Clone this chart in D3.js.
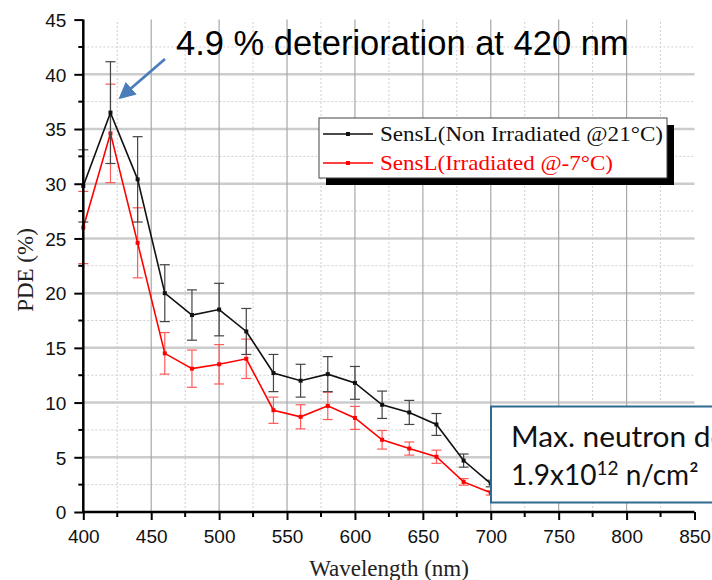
<html lang="en">
<head>
<meta charset="UTF-8">
<title>PDE vs wavelength</title>
<script src="https://cdn.jsdelivr.net/npm/d3@7"></script>
<style>
  body { margin: 0; background: #fff; }
  svg { display: block; }
  .tick-label { font-family: "Liberation Sans", Arial, sans-serif; font-size: 19px; fill: #111; }
  .serif { font-family: "Liberation Serif", "Times New Roman", serif; }
</style>
</head>
<body>
<svg id="chart"></svg>
<script>
// wavelengths (nm)
var wavelengths = [400, 420, 440, 460, 480, 500, 520, 540, 560, 580, 600, 620, 640, 660, 680, 700];
// SensL non irradiated @21C
var pdeNonIrr = [29.8, 36.5, 30.4, 20.0, 18.0, 18.5, 16.5, 12.7, 12.0, 12.6, 11.8, 9.8, 9.1, 8.0, 4.7, 2.6];
var errNonIrr = [3.3, 4.65, 3.9, 2.6, 2.3, 2.4, 2.1, 1.7, 1.5, 1.6, 1.5, 1.25, 1.1, 1.0, 0.6, 0.3];
// SensL irradiated @-7C
var pdeIrr = [26.0, 34.6, 24.6, 14.5, 13.1, 13.5, 14.0, 9.3, 8.7, 9.7, 8.6, 6.6, 5.8, 5.05, 2.75, 1.75];
var errIrr = [3.3, 4.5, 3.2, 1.9, 1.7, 1.8, 1.8, 1.2, 1.1, 1.25, 1.05, 0.85, 0.6, 0.6, 0.3, 0.2];

var xTicks = [400, 450, 500, 550, 600, 650, 700, 750, 800, 850];
var yTicks = [0, 5, 10, 15, 20, 25, 30, 35, 40, 45];
var seriesNames = ["SensL(Non Irradiated @21\u00B0C)", "SensL(Irradiated @-7\u00B0C)"];

var width = 712, height = 580;
var svg = d3.select("#chart").attr("width", width).attr("height", height);

var x = d3.scaleLinear().domain([400, 850]).range([83.3, 694.5]);
var y = d3.scaleLinear().domain([0, 45]).range([512, 19.6]);

var series = [
  {name: seriesNames[0], color: "#111", errColor: "#444", values: pdeNonIrr, errs: errNonIrr, legendLen: 283},
  {name: seriesNames[1], color: "#ff0000", errColor: "#ff5a5a", values: pdeIrr, errs: errIrr, legendLen: 233}
];

// grid
var grid = svg.append("g");
var minorY = d3.range(2.5, 45, 5);
var minorX = d3.range(425, 850, 50);
grid.selectAll(".gmy").data(minorY).enter().append("line")
  .attr("x1", x(400)).attr("x2", x(850))
  .attr("y1", function(d){ return y(d); }).attr("y2", function(d){ return y(d); })
  .attr("stroke", "#cfcfcf").attr("stroke-width", 1).attr("stroke-dasharray", "2,2");
grid.selectAll(".gmx").data(minorX).enter().append("line")
  .attr("y1", y(0)).attr("y2", y(45))
  .attr("x1", function(d){ return x(d); }).attr("x2", function(d){ return x(d); })
  .attr("stroke", "#cfcfcf").attr("stroke-width", 1).attr("stroke-dasharray", "2,2");
grid.selectAll(".gy").data(yTicks.filter(function(d){ return d > 0 && d < 45; })).enter().append("line")
  .attr("x1", x(400)).attr("x2", x(850))
  .attr("y1", function(d){ return y(d); }).attr("y2", function(d){ return y(d); })
  .attr("stroke", "#cccccc").attr("stroke-width", 2.5);
grid.selectAll(".gx").data(xTicks.filter(function(d){ return d > 400 && d < 850; })).enter().append("line")
  .attr("y1", y(0)).attr("y2", y(45))
  .attr("x1", function(d){ return x(d); }).attr("x2", function(d){ return x(d); })
  .attr("stroke", "#a8a8a8").attr("stroke-width", 1.2);

// series
var line = d3.line()
  .x(function(d){ return x(d[0]); })
  .y(function(d){ return y(d[1]); });

series.slice().reverse().forEach(function(s){
  var pts = wavelengths.map(function(w, i){ return [w, s.values[i], s.errs[i]]; });
  var g = svg.append("g");
  // error bars
  var eb = g.selectAll(".eb").data(pts).enter().append("g");
  eb.append("line")
    .attr("x1", function(d){ return x(d[0]); }).attr("x2", function(d){ return x(d[0]); })
    .attr("y1", function(d){ return y(d[1] - d[2]); }).attr("y2", function(d){ return y(d[1] + d[2]); })
    .attr("stroke", s.errColor).attr("stroke-width", 1.2);
  [-1, 1].forEach(function(sign){
    eb.append("line")
      .attr("x1", function(d){ return x(d[0]) - 5; }).attr("x2", function(d){ return x(d[0]) + 5; })
      .attr("y1", function(d){ return y(d[1] + sign * d[2]); }).attr("y2", function(d){ return y(d[1] + sign * d[2]); })
      .attr("stroke", s.errColor).attr("stroke-width", 1.2);
  });
  g.append("path").datum(pts).attr("d", line)
    .attr("fill", "none").attr("stroke", s.color).attr("stroke-width", 1.6);
  g.selectAll(".pt").data(pts).enter().append("rect")
    .attr("x", function(d){ return x(d[0]) - 2; }).attr("y", function(d){ return y(d[1]) - 2; })
    .attr("width", 4).attr("height", 4).attr("fill", s.color);
});

// axes
var yAxis = d3.axisLeft(y).tickValues(yTicks).tickSize(9).tickPadding(8);
var xAxis = d3.axisBottom(x).tickValues(xTicks).tickSize(8).tickPadding(10);

var gy = svg.append("g").attr("transform", "translate(" + x(400) + ",0)").call(yAxis);
var gx = svg.append("g").attr("transform", "translate(0," + y(0) + ")").call(xAxis);
[gx, gy].forEach(function(g){
  g.select(".domain").attr("stroke", "#000").attr("stroke-width", 2.5);
  g.selectAll(".tick line").attr("stroke", "#000").attr("stroke-width", 2);
  g.selectAll(".tick text").attr("class", "tick-label").attr("font-size", null).attr("font-family", null);
});
gy.select(".domain").attr("d", "M0," + y(0) + "V" + y(45));
gx.select(".domain").attr("d", "M" + x(400) + ",0H" + x(850));
gy.selectAll(".tick text").attr("dy", "0.36em");
gx.selectAll(".tick text").attr("dy", "0.71em");

// minor ticks
svg.append("g").selectAll("line").data(minorY).enter().append("line")
  .attr("x1", x(400) - 5).attr("x2", x(400))
  .attr("y1", function(d){ return y(d); }).attr("y2", function(d){ return y(d); })
  .attr("stroke", "#000").attr("stroke-width", 2);
svg.append("g").selectAll("line").data(minorX).enter().append("line")
  .attr("y1", y(0)).attr("y2", y(0) + 5)
  .attr("x1", function(d){ return x(d); }).attr("x2", function(d){ return x(d); })
  .attr("stroke", "#000").attr("stroke-width", 2);

// axis titles
svg.append("text").attr("class", "serif")
  .attr("transform", "translate(33,270) rotate(-90)")
  .attr("text-anchor", "middle").attr("font-size", 23).attr("fill", "#222")
  .text("PDE (%)");
svg.append("text").attr("class", "serif")
  .attr("x", 389).attr("y", 576)
  .attr("text-anchor", "middle").attr("font-size", 23).attr("fill", "#222")
  .text("Wavelength (nm)");

// legend
var legend = svg.append("g").attr("transform", "translate(319,118)");
legend.append("rect").attr("x", 7).attr("y", 7).attr("width", 348).attr("height", 60).attr("fill", "#000");
legend.append("rect").attr("x", 0).attr("y", 0).attr("width", 348).attr("height", 60)
  .attr("fill", "#fff").attr("stroke", "#444").attr("stroke-width", 1);
series.forEach(function(s, i){
  var ly = 16 + i * 29;
  legend.append("line").attr("x1", 4).attr("x2", 54).attr("y1", ly).attr("y2", ly)
    .attr("stroke", s.color).attr("stroke-width", 1.5);
  legend.append("rect").attr("x", 27).attr("y", ly - 2).attr("width", 4).attr("height", 4).attr("fill", s.color);
  legend.append("text").attr("class", "serif")
    .attr("x", 61).attr("y", ly + 7).attr("font-size", 22).attr("fill", s.color)
    .attr("textLength", s.legendLen).attr("lengthAdjust", "spacingAndGlyphs")
    .text(s.name);
});

// dose box
var box = svg.append("g");
box.append("rect").attr("x", 491).attr("y", 406.5).attr("width", 260).attr("height", 96)
  .attr("fill", "#fff").attr("stroke", "#2f6a8f").attr("stroke-width", 2);
box.append("text").attr("x", 511).attr("y", 446.5)
  .attr("font-family", "Lato, 'Open Sans', sans-serif").attr("font-size", 28).attr("fill", "#111")
  .attr("textLength", 245).attr("lengthAdjust", "spacingAndGlyphs")
  .text("Max. neutron dose");
var t2 = box.append("text").attr("x", 511).attr("y", 485)
  .attr("font-family", "Lato, 'Open Sans', sans-serif").attr("font-size", 28).attr("fill", "#111");
t2.append("tspan").text("1.9x10");
t2.append("tspan").attr("dy", -10).attr("font-size", 19).text("12");
t2.append("tspan").attr("dy", 10).text(" n/cm\u00B2");

// annotation arrow + text
var defs = svg.append("defs");
defs.append("marker").attr("id", "arr").attr("viewBox", "0 0 10 10")
  .attr("refX", 8).attr("refY", 5).attr("markerWidth", 6).attr("markerHeight", 6)
  .attr("orient", "auto").attr("markerUnits", "strokeWidth")
  .append("path").attr("d", "M0,0L10,5L0,10z").attr("fill", "#4a7ebb");
svg.append("line").attr("x1", 165).attr("y1", 59).attr("x2", 121).attr("y2", 97)
  .attr("stroke", "#4a7ebb").attr("stroke-width", 2.8).attr("marker-end", "url(#arr)");
svg.append("text").attr("x", 176).attr("y", 55)
  .attr("font-family", "'Liberation Sans', Arial, sans-serif").attr("font-size", 34.5).attr("fill", "#000")
  .text("4.9 % deterioration at 420 nm");
</script>
</body>
</html>
